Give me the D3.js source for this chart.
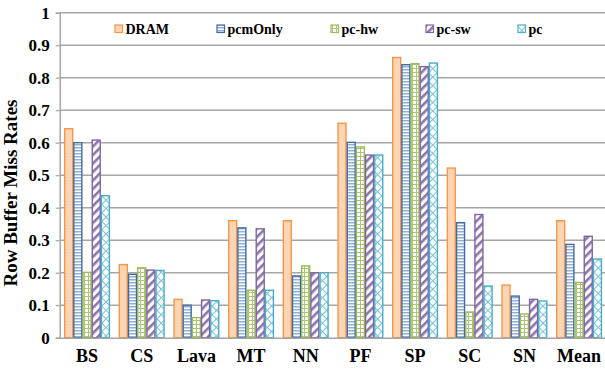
<!DOCTYPE html>
<html>
<head>
<meta charset="utf-8">
<script src="https://cdn.jsdelivr.net/npm/d3@7"></script>
<style>
  body { margin: 0; background: #fff; }
  svg text { font-family: "Liberation Serif", "Times New Roman", "DejaVu Serif", serif !important; font-weight: bold; }
</style>
</head>
<body>
<svg id="svg1" width="605" height="372"></svg>
<script>
// data
var categories = ["BS", "CS", "Lava", "MT", "NN", "PF", "SP", "SC", "SN", "Mean"];
var seriesNames = ["DRAM", "pcmOnly", "pc-hw", "pc-sw", "pc"];
var dram    = [0.643, 0.225, 0.118, 0.360, 0.360, 0.660, 0.862, 0.522, 0.162, 0.360];
var pcmOnly = [0.600, 0.195, 0.100, 0.338, 0.190, 0.601, 0.840, 0.354, 0.128, 0.287];
var pcHw    = [0.201, 0.215, 0.062, 0.146, 0.221, 0.587, 0.843, 0.079, 0.073, 0.170];
var pcSw    = [0.608, 0.208, 0.116, 0.335, 0.200, 0.562, 0.834, 0.379, 0.118, 0.312];
var pc      = [0.437, 0.207, 0.114, 0.146, 0.200, 0.562, 0.845, 0.159, 0.113, 0.242];
var yTicks  = [0, 0.1, 0.2, 0.3, 0.4, 0.5, 0.6, 0.7, 0.8, 0.9, 1];

var allSeries = [dram, pcmOnly, pcHw, pcSw, pc];

var svg = d3.select("#svg1");
var defs = svg.append("defs");

// fill patterns, Excel style
function pat(id, w, h) {
  var p = defs.append("pattern").attr("id", id)
    .attr("patternUnits", "userSpaceOnUse").attr("width", w).attr("height", h);
  p.append("rect").attr("width", w).attr("height", h).attr("fill", "#fff");
  return p;
}
var p1 = pat("pDram", 4, 4);
p1.select("rect").attr("fill", "#fcd5b5");

var p2 = pat("pPcm", 4, 3);
p2.append("rect").attr("y", 0).attr("width", 4).attr("height", 1.5).attr("fill", "#8fb0dc");

var p3 = pat("pHw", 4, 4);
p3.append("rect").attr("x", 0).attr("y", 0).attr("width", 4).attr("height", 1).attr("fill", "#a9c76f");
p3.append("rect").attr("x", 0).attr("y", 0).attr("width", 1).attr("height", 4).attr("fill", "#a9c76f");

var p4 = pat("pSw", 6, 6);
p4.attr("patternTransform", "rotate(45)");
p4.append("rect").attr("x", 0).attr("y", 0).attr("width", 2.6).attr("height", 6).attr("fill", "#8c72b0");

var p5 = pat("pPc", 6, 6);
p5.attr("patternTransform", "rotate(45)");
p5.append("rect").attr("x", 0).attr("y", 0).attr("width", 1).attr("height", 6).attr("fill", "#6ec6dc");
p5.append("rect").attr("x", 0).attr("y", 0).attr("width", 6).attr("height", 1).attr("fill", "#6ec6dc");

var fills   = ["url(#pDram)", "url(#pPcm)", "url(#pHw)", "url(#pSw)", "url(#pPc)"];
var strokes = ["#f79646", "#426a9c", "#9bbb59", "#8064a2", "#4bacc6"];

// scales
var scaleX = d3.scaleBand().domain(categories).range([59.7, 606.4]).paddingInner(0.16).paddingOuter(0.08);
var scaleSub = d3.scaleBand().domain(seriesNames).range([0, scaleX.bandwidth()]);
var scaleY = d3.scaleLinear().domain([0, 1]).range([337.7, 12.7]);

var gContainer = svg.append("g");

// gridlines
gContainer.append("g").selectAll("line").data(yTicks.slice(1)).enter().append("line")
  .attr("x1", 59.7).attr("x2", 606)
  .attr("y1", function(d) { return scaleY(d); }).attr("y2", function(d) { return scaleY(d); })
  .attr("stroke", "#a6a6a6").attr("stroke-width", 1.5);

// bars
seriesNames.forEach(function(name, i) {
  gContainer.append("g").selectAll("rect").data(allSeries[i]).enter().append("rect")
    .attr("x", function(d, j) { return scaleX(categories[j]) + scaleSub(name) + 0.6; })
    .attr("width", scaleSub.bandwidth() - 1.2)
    .attr("y", function(d) { return scaleY(d); })
    .attr("height", function(d) { return scaleY(0) - scaleY(d); })
    .attr("fill", fills[i]).attr("stroke", strokes[i]).attr("stroke-width", 1.4);
});

// y axis
var axisY = d3.axisLeft(scaleY).tickValues(yTicks).tickSize(4).tickPadding(6)
  .tickFormat(function(d) { return d === 0 ? "0" : d === 1 ? "1" : d3.format(".1f")(d); });
var gAxisY = gContainer.append("g").attr("transform", "translate(59.7,0)").call(axisY);
gAxisY.attr("font-family", null);
gAxisY.select(".domain").attr("stroke", "#a6a6a6").attr("stroke-width", 1.5);
gAxisY.selectAll(".tick line").attr("stroke", "#a6a6a6").attr("stroke-width", 1.2);
gAxisY.selectAll("text").attr("font-size", 17).attr("fill", "#000");

// x axis
var axisX = d3.axisBottom(scaleX).tickSize(0).tickPadding(12);
var gAxisX = gContainer.append("g").attr("transform", "translate(0,337.7)").call(axisX);
gAxisX.attr("font-family", null);
gAxisX.select(".domain").attr("stroke", "#a6a6a6").attr("stroke-width", 1.5);
gAxisX.selectAll("text").attr("font-size", 18).attr("fill", "#000");

// y label
svg.append("text").attr("transform", "translate(17,193) rotate(-90)")
  .attr("text-anchor", "middle").attr("font-size", 19).attr("fill", "#000")
  .text("Row Buffer Miss Rates");

// legend
var legendX = [115, 217, 331, 426, 518];
var legend = svg.append("g");
seriesNames.forEach(function(name, i) {
  legend.append("rect").attr("x", legendX[i]).attr("y", 25).attr("width", 7.5).attr("height", 7.5)
    .attr("fill", fills[i]).attr("stroke", strokes[i]).attr("stroke-width", 1.2);
  legend.append("text").attr("x", legendX[i] + 10.5).attr("y", 34)
    .attr("font-size", 14).attr("fill", "#000").text(name);
});
</script>
</body>
</html>
